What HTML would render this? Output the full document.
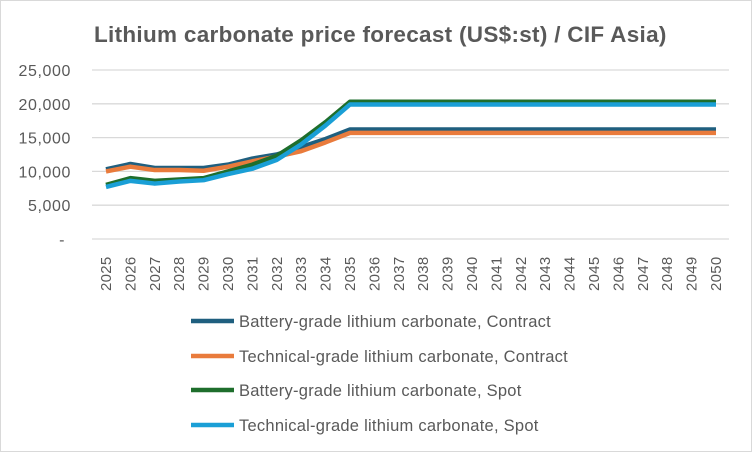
<!DOCTYPE html>
<html><head><meta charset="utf-8"><style>
body{margin:0;background:#fff;font-family:"Liberation Sans",sans-serif}
#c{position:absolute;left:0;top:0;width:750px;height:450px;border:1px solid #d9d9d9}
</style></head><body>
<div id="c">
<svg width="752" height="452">
<text x="93" y="41" font-size="22.5" font-weight="bold" fill="#595959" letter-spacing="0.3">Lithium carbonate price forecast (US$:st) / CIF Asia)</text>
<g id="grid"></g><g id="ylab"></g><g id="xlab"></g><g id="lines"></g><g id="legend"></g>
</svg></div>
<script>
const years=[];for(let y=2025;y<=2050;y++)years.push(y);
const yTicks=[0,5000,10000,15000,20000,25000];
const yTickLabels=["-","5,000","10,000","15,000","20,000","25,000"];
const batteryContract=[10300,11100,10500,10500,10500,11000,11900,12500,13600,14800,16200,16200,16200,16200,16200,16200,16200,16200,16200,16200,16200,16200,16200,16200,16200,16200];
const technicalContract=[10000,10700,10200,10200,10100,10700,11500,12200,13000,14300,15700,15700,15700,15700,15700,15700,15700,15700,15700,15700,15700,15700,15700,15700,15700,15700];
const batterySpot=[8000,9000,8600,8800,9000,10000,11000,12300,14600,17300,20300,20300,20300,20300,20300,20300,20300,20300,20300,20300,20300,20300,20300,20300,20300,20300];
const technicalSpot=[7700,8600,8200,8500,8700,9600,10400,11700,14000,16800,19900,19900,19900,19900,19900,19900,19900,19900,19900,19900,19900,19900,19900,19900,19900,19900];
const seriesNames=["Battery-grade lithium carbonate, Contract","Technical-grade lithium carbonate, Contract","Battery-grade lithium carbonate, Spot","Technical-grade lithium carbonate, Spot"];
const NS="http://www.w3.org/2000/svg";
const x=i=>105+i*24.4, y=v=>238-v/25000*169;
function mk(t,a,p){const e=document.createElementNS(NS,t);for(const k in a)e.setAttribute(k,a[k]);p.appendChild(e);return e;}
const G=document.getElementById('grid'),YL=document.getElementById('ylab'),XL=document.getElementById('xlab'),L=document.getElementById('lines'),LG=document.getElementById('legend');
yTicks.forEach((t,i)=>{const l=mk('line',{x1:91,x2:728,y1:y(t),y2:y(t),stroke:'#d9d9d9','stroke-width':1.3},G);


const tx=mk('text',{x:i==0?64:70,y:y(t)+6,'text-anchor':'end','font-size':16,'letter-spacing':0.6,fill:'#595959'},YL);tx.textContent=yTickLabels[i];

});
years.forEach((yr,i)=>{const tx=mk('text',{transform:`translate(${x(i)+5},290) rotate(-90)`,'font-size':15,'letter-spacing':0.3,fill:'#595959'},XL);tx.textContent=yr;

});
const data=[batteryContract,technicalContract,batterySpot,technicalSpot];
const cols=["#1f5f7f","#e97b3c","#1e6e2c","#1a9fd6"];
data.forEach((d,s)=>{const p=mk('polyline',{points:d.map((v,i)=>x(i)+','+y(v)).join(' '),fill:'none',stroke:cols[s],'stroke-width':4.5,'stroke-linejoin':'round'},L);


const ly=[320,355,389,424][s];
const g=mk('g',{},LG);


mk('line',{x1:190,x2:233,y1:ly,y2:ly,stroke:cols[s],'stroke-width':4.5},g);
const t=mk('text',{x:238,y:ly+6,'font-size':16.5,'letter-spacing':0.25,fill:'#595959'},g);t.textContent=seriesNames[s];});
</script></body></html>
